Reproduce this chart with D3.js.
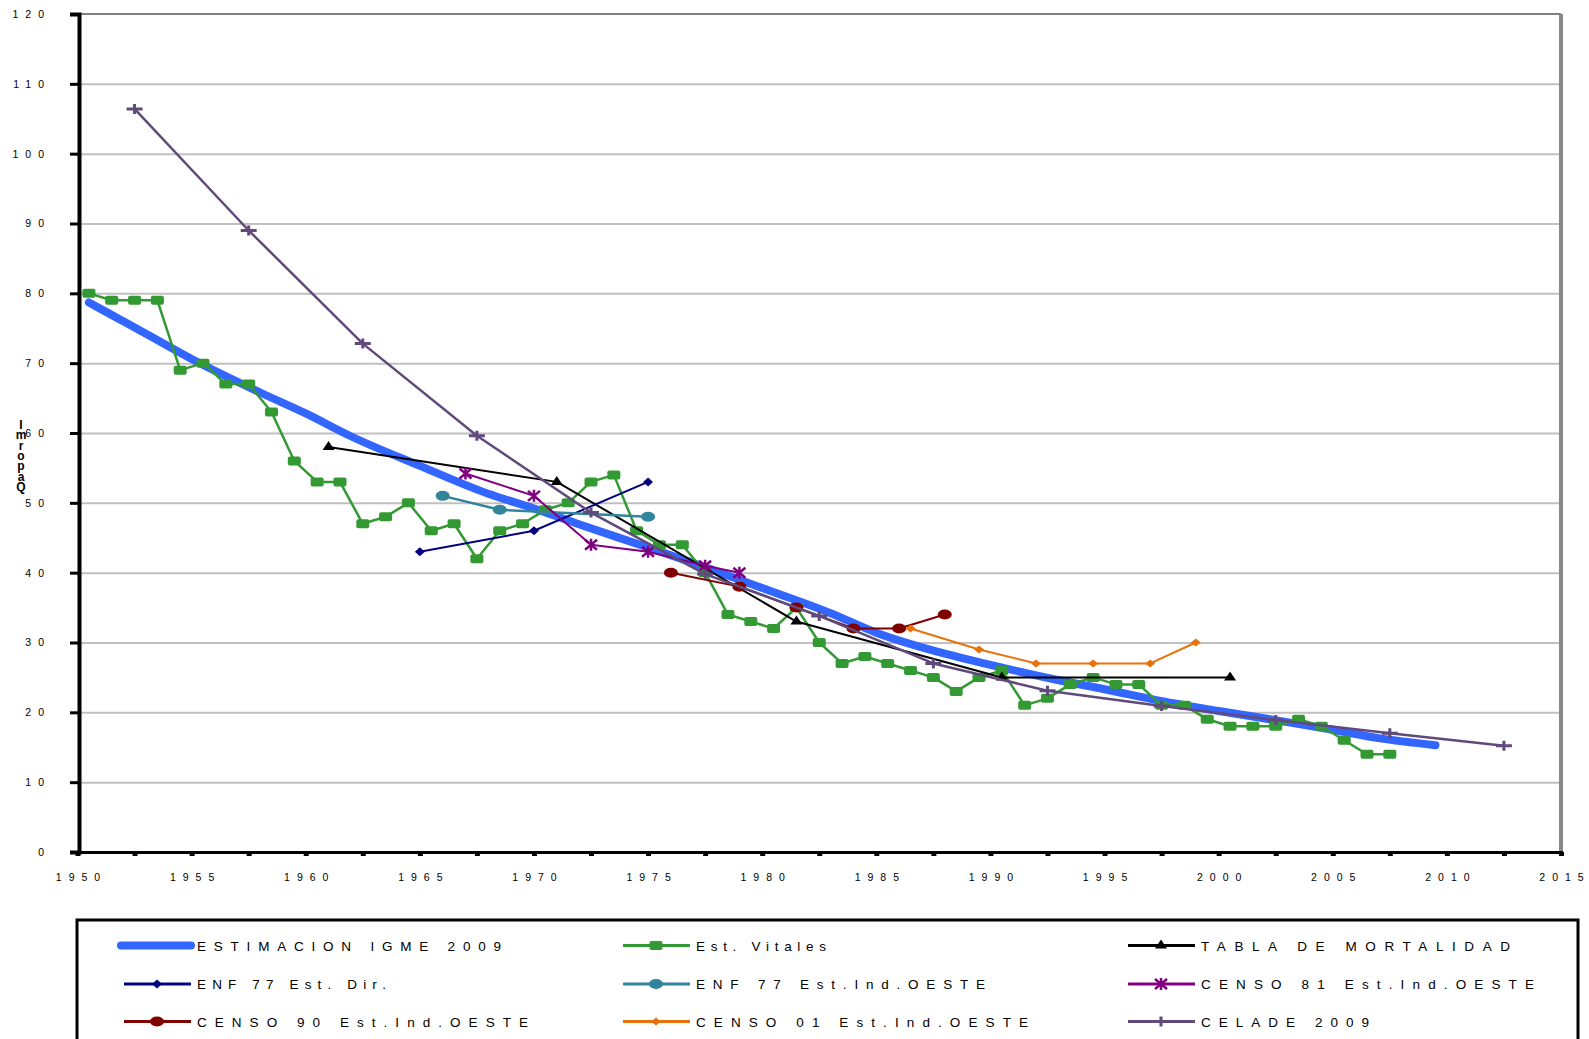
<!DOCTYPE html>
<html>
<head>
<meta charset="utf-8">
<script src="https://cdn.jsdelivr.net/npm/d3@7"></script>
<style>
  body { margin: 0; background: #fff; }
  svg { display: block; font-family: "Liberation Sans", Arial, sans-serif; }
</style>
</head>
<body>
<div id="chart"></div>
<script>
// values, [year, value]
var igme2009 = [[1950.5,78.7],[1952,76],[1953,74.2],[1955,70.6],[1958,65.8],[1960,62.8],[1962,59.5],[1965,55.3],[1968,51.3],
  [1970,49.2],[1972,46.9],[1975,43.6],[1978,40.2],[1980,37.8],[1983,34.2],[1985,31.4],[1988,28.4],[1990,26.8],
  [1993,24.6],[1995,23.3],[1998,21.3],[2000,20.2],[2003,18.6],[2005,17.5],[2007,16.3],[2009.5,15.3]];

var vitalesYears = [1950.5,1951.5,1952.5,1953.5,1954.5,1955.5,1956.5,1957.5,1958.5,1959.5,1960.5,1961.5,1962.5,1963.5,
  1964.5,1965.5,1966.5,1967.5,1968.5,1969.5,1970.5,1971.5,1972.5,1973.5,1974.5,1975.5,1976.5,1977.5,1978.5,1979.5,
  1980.5,1981.5,1982.5,1983.5,1984.5,1985.5,1986.5,1987.5,1988.5,1989.5,1990.5,1991.5,1992.5,1993.5,1994.5,1995.5,
  1996.5,1997.5,1998.5,1999.5,2000.5,2001.5,2002.5,2003.5,2004.5,2005.5,2006.5,2007.5];
var vitalesValues = [80,79,79,79,69,70,67,67,63,56,53,53,47,48,50,46,47,42,46,47,49,50,53,54,46,44,44,40,34,33,
  32,35,30,27,28,27,26,25,23,25,26,21,22,24,25,24,24,21,21,19,18,18,18,19,18,16,14,14];

var tablaMortalidad = [[1961,58],[1971,53],[1981.5,33],[1990.5,25],[2000.5,25]];
var enf77Dir = [[1965,43],[1970,46],[1975,53]];
var enf77Ind = [[1966,51],[1968.5,49],[1975,48]];
var censo81 = [[1967,54.2],[1970,51],[1972.5,44],[1975,43],[1977.5,41],[1979,40]];
var censo90 = [[1976,40],[1979,38],[1981.5,35],[1984,32],[1986,32],[1988,34]];
var censo01 = [[1986.5,32],[1989.5,29],[1992,27],[1994.5,27],[1997,27],[1999,30]];
var celade2009 = [[1952.5,106.4],[1957.5,89],[1962.5,72.8],[1967.5,59.6],[1972.5,48.6],[1977.5,39.8],[1982.5,33.8],
  [1987.5,27],[1992.5,23.1],[1997.5,20.9],[2002.5,18.9],[2007.5,17],[2012.5,15.2]];

var yTicks = [0,10,20,30,40,50,60,70,80,90,100,110,120];
var xLabels = [1950,1955,1960,1965,1970,1975,1980,1985,1990,1995,2000,2005,2010,2015];
var yLabelChars = ["I","m","r","o","p","a","Q"];

var series = [
  {name: "ESTIMACION IGME 2009", data: igme2009, color: "#3366ff", width: 8, marker: null, textW: 304},
  {name: "Est. Vitales", data: vitalesYears.map((d, i) => [d, vitalesValues[i]]), color: "#339933", width: 2.5, marker: "square", textW: 130},
  {name: "TABLA DE MORTALIDAD", data: tablaMortalidad, color: "#000000", width: 2, marker: "triangle", textW: 309},
  {name: "ENF 77 Est. Dir.", data: enf77Dir, color: "#000080", width: 2, marker: "diamond", textW: 189},
  {name: "ENF 77 Est.Ind.OESTE", data: enf77Ind, color: "#31849b", width: 2.5, marker: "circle", textW: 289},
  {name: "CENSO 81 Est.Ind.OESTE", data: censo81, color: "#800080", width: 2, marker: "star", textW: 333},
  {name: "CENSO 90 Est.Ind.OESTE", data: censo90, color: "#800000", width: 2, marker: "circle", textW: 331},
  {name: "CENSO 01 Est.Ind.OESTE", data: censo01, color: "#e8720c", width: 2, marker: "smalldiamond", textW: 332},
  {name: "CELADE 2009", data: celade2009, color: "#604a7b", width: 2.5, marker: "plus", textW: 168}
];

var width = 1589, height = 1039;
var plotLeft = 79, plotRight = 1561;

var svg = d3.select("#chart").append("svg")
  .attr("width", width)
  .attr("height", height);

var x = d3.scaleLinear().domain([1950, 2015]).range([77.5, plotRight]);
var y = d3.scaleLinear().domain([0, 120]).range([852, 14]);

// gridlines
var grid = svg.append("g")
  .attr("transform", "translate(" + plotLeft + ",0)")
  .call(d3.axisLeft(y).tickValues(yTicks.slice(1, -1)).tickSize(-(plotRight - plotLeft)).tickFormat(""));
grid.select(".domain").remove();
grid.selectAll("line").attr("stroke", "#c0c0c0").attr("stroke-width", 2);

// top and right frame
svg.append("line").attr("x1", plotLeft).attr("x2", plotRight).attr("y1", y(120)).attr("y2", y(120))
  .attr("stroke", "#808080").attr("stroke-width", 2);
svg.append("line").attr("x1", plotRight).attr("x2", plotRight).attr("y1", y(120)).attr("y2", y(0))
  .attr("stroke", "#888888").attr("stroke-width", 4);

// y axis
var axisY = svg.append("g")
  .attr("transform", "translate(" + plotLeft + ",0)")
  .call(d3.axisLeft(y).tickValues(yTicks).tickSize(9).tickPadding(19).tickFormat(d => d));
axisY.select(".domain").attr("stroke", "#000").attr("stroke-width", 4);
axisY.selectAll("line").attr("stroke", "#000").attr("stroke-width", 3);
axisY.selectAll("text")
  .attr("font-family", "Liberation Sans, Arial, sans-serif")
  .attr("font-size", 10.5)
  .style("letter-spacing", "7px")
  .attr("fill", "#000");

// x axis
var xMinor = d3.range(1950, 2015.1, 2.5);
var axisX = svg.append("g")
  .attr("transform", "translate(0," + y(0) + ")")
  .call(d3.axisBottom(x).tickValues(xMinor).tickSize(4).tickPadding(18)
    .tickFormat(d => xLabels.indexOf(d) >= 0 ? d : ""));
axisX.select(".domain").attr("stroke", "#000").attr("stroke-width", 3);
axisX.selectAll("line").attr("stroke", "#000").attr("stroke-width", 5);
axisX.selectAll("text")
  .attr("font-family", "Liberation Sans, Arial, sans-serif")
  .attr("font-size", 10.5)
  .attr("dx", "3.5")
  .style("letter-spacing", "7px")
  .attr("fill", "#000");

// garbled vertical axis title
svg.append("g").selectAll("text")
  .data(yLabelChars)
  .enter()
  .append("text")
  .attr("x", 21)
  .attr("y", (d, i) => 429 + i * 10.3)
  .attr("text-anchor", "middle")
  .attr("font-size", 12)
  .attr("font-weight", "bold")
  .text(d => d);

function drawMarker(g, type, color) {
  if (type === "square") {
    g.append("rect").attr("x", -6.5).attr("y", -4.5).attr("width", 13).attr("height", 9).attr("rx", 2).attr("fill", color);
  } else if (type === "triangle") {
    g.append("path").attr("d", "M0,-6L6,3L-6,3Z").attr("fill", color);
  } else if (type === "diamond") {
    g.append("path").attr("d", "M0,-4.5L5,0L0,4.5L-5,0Z").attr("fill", color);
  } else if (type === "smalldiamond") {
    g.append("path").attr("d", "M0,-4L5,0L0,4L-5,0Z").attr("fill", color);
  } else if (type === "circle") {
    g.append("ellipse").attr("rx", 7).attr("ry", 5).attr("fill", color);
  } else if (type === "star") {
    g.append("path").attr("d", "M-6,-5L6,5M-6,5L6,-5M0,-6L0,6").attr("stroke", color).attr("stroke-width", 2.5);
  } else if (type === "plus") {
    g.append("path").attr("d", "M-8,0L8,0M0,-5L0,5").attr("stroke", color).attr("stroke-width", 3);
  }
}

var line = d3.line().x(d => x(d[0])).y(d => y(d[1])).curve(d3.curveLinear);

series.forEach(function (s) {
  svg.append("path")
    .datum(s.data)
    .attr("d", s.marker ? line : line.curve(d3.curveMonotoneX))
    .attr("fill", "none")
    .attr("stroke", s.color)
    .attr("stroke-width", s.width)
    .attr("stroke-linejoin", "round")
    .attr("stroke-linecap", "round");
  line.curve(d3.curveLinear);
  if (s.marker) {
    svg.append("g").selectAll("g")
      .data(s.data)
      .enter()
      .append("g")
      .attr("transform", d => "translate(" + x(d[0]) + "," + y(d[1]) + ")")
      .each(function () { drawMarker(d3.select(this), s.marker, s.color); });
  }
});

// legend
svg.append("rect")
  .attr("x", 77).attr("y", 920)
  .attr("width", 1501).attr("height", 160)
  .attr("fill", "none").attr("stroke", "#000").attr("stroke-width", 3);

var legCols = [121, 620, 1125];
var legRows = [945.5, 984, 1021.5];

series.forEach(function (s, i) {
  var lx = legCols[i % 3], ly = legRows[Math.floor(i / 3)];
  var g = svg.append("g").attr("transform", "translate(" + lx + "," + ly + ")");
  g.append("line").attr("x1", s.marker ? 3 : 0).attr("x2", 70).attr("y1", 0).attr("y2", 0)
    .attr("stroke", s.color).attr("stroke-width", s.marker ? 3 : s.width).attr("stroke-linecap", s.marker ? "butt" : "round");
  if (s.marker) {
    drawMarker(g.append("g").attr("transform", "translate(36,0)"), s.marker, s.color);
  }
  g.append("text")
    .attr("x", 76).attr("y", 5)
    .attr("font-size", 13.5)
    .attr("textLength", s.textW)
    .attr("lengthAdjust", "spacing")
    .attr("fill", "#000")
    .text(s.name);
});
</script>
</body>
</html>
